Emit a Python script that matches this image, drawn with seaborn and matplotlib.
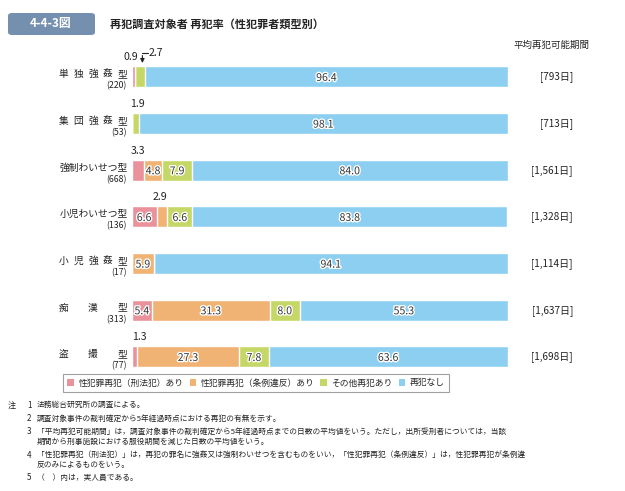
import matplotlib
matplotlib.use("Agg")
import matplotlib.pyplot as plt
import matplotlib.patheffects as pe
import matplotlib.transforms as mtrans
import seaborn as sns
import numpy as np
import pandas as pd

sns.set_theme(style="white")
plt.rcParams['font.family'] = ['Noto Sans CJK JP', 'DejaVu Sans']

# ---- data ----
categories = ["単独強姦型", "集団強姦型", "強制わいせつ型", "小児わいせつ型",
              "小児強姦型", "痴漢型", "盗撮型"]
counts = ["(220)", "(53)", "(668)", "(136)", "(17)", "(313)", "(77)"]
penal = [0.9, 0.0, 3.3, 6.6, 0.0, 5.4, 1.3]          # 性犯罪再犯（刑法犯）あり
ordinance = [0.0, 0.0, 4.8, 2.9, 5.9, 31.3, 27.3]    # 性犯罪再犯（条例違反）あり
other = [2.7, 1.9, 7.9, 6.6, 0.0, 8.0, 7.8]          # その他再犯あり
none_ = [96.4, 98.1, 84.0, 83.8, 94.1, 55.3, 63.6]   # 再犯なし
days = ["[793日]", "[713日]", "[1,561日]", "[1,328日]", "[1,114日]", "[1,637日]", "[1,698日]"]
series_names = ["性犯罪再犯（刑法犯）あり", "性犯罪再犯（条例違反）あり", "その他再犯あり", "再犯なし"]
colors = ["#e9929b", "#f0b374", "#c5d867", "#8ccff1"]

notes = [
    ("注", "1", "法務総合研究所の調査による。"),
    ("", "2", "調査対象事件の裁判確定から5年経過時点における再犯の有無を示す。"),
    ("", "3", "「平均再犯可能期間」は，調査対象事件の裁判確定から5年経過時点までの日数の平均値をいう。ただし，出所受刑者については，当該"),
    ("", "", "期間から刑事施設における服役期間を減じた日数の平均値をいう。"),
    ("", "4", "「性犯罪再犯（刑法犯）」は，再犯の罪名に強姦又は強制わいせつを含むものをいい，「性犯罪再犯（条例違反）」は，性犯罪再犯が条例違"),
    ("", "", "反のみによるものをいう。"),
    ("", "5", "（　）内は，実人員である。"),
]

series = [penal, ordinance, other, none_]
vals = np.array(series)                 # shape (4, 7)
cums = np.cumsum(vals, axis=0)
lefts = cums - vals

W, H = 625, 491
fig = plt.figure(figsize=(6.25, 4.91), dpi=100)
ax = fig.add_axes([0.2107, 0.2254, 0.6016, 0.6653])

for k in range(3, -1, -1):
    df = pd.DataFrame({"cat": categories, "v": cums[k]})
    sns.barplot(data=df, x="v", y="cat", orient="h", color=colors[k], saturation=1,
                edgecolor="white", linewidth=1.0, width=0.45, ax=ax)

ax.set_xlim(0, 100)
ax.set_ylim(6.5, -0.5)
ax.set_xlabel("")
ax.set_ylabel("")
ax.set_xticks([])
ax.set_yticks([])
for s in ax.spines.values():
    s.set_visible(False)
ax.patch.set_alpha(0)

blend = mtrans.blended_transform_factory(fig.transFigure, ax.transData)

halo = [pe.withStroke(linewidth=2, foreground="white")]
n = len(categories)
name_left, name_right = 58.5, 127.5
char_w = 9.7
for i in range(n):
    for k in range(4):
        v = vals[k, i]
        if v <= 0:
            continue
        xc = lefts[k, i] + v / 2
        if v >= 4:
            ax.text(xc, i + 0.02, f"{v:.1f}", ha="center", va="center", fontsize=7.6,
                    color="#333333", path_effects=halo)
    name = categories[i]
    m = len(name)
    if m >= 7:
        ax.text(name_right / W, i - 0.06, name, ha="right", va="center", fontsize=7,
                color="#222222", transform=blend, clip_on=False)
    else:
        span = (name_right - name_left) - char_w
        for j, ch in enumerate(name):
            xcen = name_left + char_w / 2 + span * j / (m - 1)
            ax.text(xcen / W, i - 0.06, ch, ha="center", va="center", fontsize=7,
                    color="#222222", transform=blend, clip_on=False)
    ax.text(126.5 / W, i + 0.19, counts[i], ha="right", va="center", fontsize=6.3,
            color="#222222", transform=blend, clip_on=False)
    ax.text(573 / W, i, days[i], ha="right", va="center", fontsize=7.2,
            color="#222222", transform=blend, clip_on=False)

# small values above bars
above_y = -0.42
ax.text(lefts[0, 0] + vals[0, 0] + 0.8, 0 + above_y, f"{vals[0,0]:.1f}", ha="right", va="center",
        fontsize=7.6, color="#222222")
xg = lefts[2, 0] + vals[2, 0] / 2 + 0.6
ax.annotate("", xy=(xg, -0.24), xytext=(xg, -0.52),
            arrowprops=dict(arrowstyle="-|>", color="#222222", lw=0.8, mutation_scale=6))
ax.plot([xg, xg + 1.6], [-0.52, -0.52], color="#222222", lw=0.8, clip_on=False)
ax.text(xg + 1.6, -0.52, f"{vals[2,0]:.1f}", ha="left", va="center", fontsize=7.6, color="#222222")
ax.text(lefts[2, 1] + vals[2, 1] / 2 + 0.5, 1 + above_y, f"{vals[2,1]:.1f}", ha="center", va="center",
        fontsize=7.6, color="#222222")
ax.text(lefts[0, 2] + vals[0, 2] / 2, 2 + above_y, f"{vals[0,2]:.1f}", ha="center", va="center",
        fontsize=7.6, color="#222222")
ax.text(lefts[1, 3] + vals[1, 3] / 2 - 0.5, 3 + above_y, f"{vals[1,3]:.1f}", ha="center", va="center",
        fontsize=7.6, color="#222222")
ax.text(lefts[0, 6], 6 + above_y, f"{vals[0,6]:.1f}", ha="left", va="center",
        fontsize=7.6, color="#222222")

# header texts
fig.patches.append(matplotlib.patches.FancyBboxPatch(
    (8 / W, 1 - 35 / H), 87 / W, 22 / H, boxstyle="round,pad=0,rounding_size=0.006",
    transform=fig.transFigure, facecolor="#7590ae", edgecolor="none"))
fig.text(51 / W, 1 - 24 / H, "4-4-3図", ha="center", va="center", fontsize=8.5,
         color="white", fontweight="bold")
fig.text(110 / W, 1 - 24 / H, "再犯調査対象者 再犯率（性犯罪者類型別）", ha="left", va="center",
         fontsize=8.0, color="#222222", fontweight="bold")
fig.text(551 / W, 1 - 45 / H, "平均再犯可能期間", ha="center", va="center", fontsize=6.8,
         color="#222222")

# legend
handles = [matplotlib.patches.Patch(facecolor=c, edgecolor="none") for c in colors]
leg = fig.legend(handles, series_names, loc="center", bbox_to_anchor=(256 / W, 1 - 383 / H),
                 ncol=4, fontsize=6.3, frameon=True, handlelength=0.75, handleheight=0.75,
                 handletextpad=0.5, columnspacing=0.7, borderpad=0.55, fancybox=False)
leg.get_frame().set_edgecolor("#888888")
leg.get_frame().set_linewidth(0.8)

# notes
ys = [405, 418.5, 432, 442, 455, 465, 478]
for (a, b, t), y in zip(notes, ys):
    if a:
        fig.text(8 / W, 1 - y / H, a, ha="left", va="center", fontsize=5.8, color="#222222")
    if b:
        fig.text(27 / W, 1 - y / H, b, ha="left", va="center", fontsize=5.8, color="#222222")
    fig.text(37 / W, 1 - y / H, t, ha="left", va="center", fontsize=5.55, color="#222222")

fig.savefig("out.png", dpi=100)
